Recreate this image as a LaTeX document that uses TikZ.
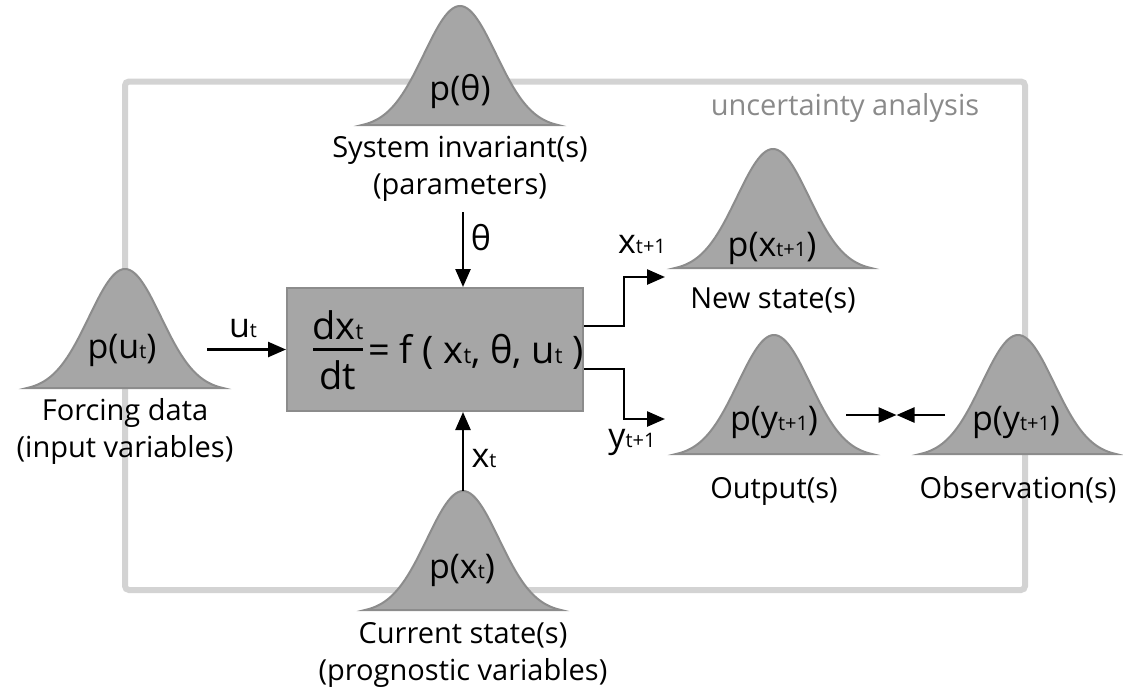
\documentclass[tikz,border=0pt]{standalone}
\usepackage{fontspec}
\setmainfont{Open Sans}
\usetikzlibrary{arrows.meta,calc}
\definecolor{bellfill}{HTML}{A6A6A6}
\definecolor{bellline}{HTML}{8C8C8C}
\definecolor{framegray}{HTML}{D3D3D3}
\definecolor{labgray}{HTML}{8A8A8A}
\newcommand\sbs[1]{{\fontsize{20}{20}\selectfont #1}}
\newcommand\sbe[1]{{\fontsize{22}{22}\selectfont #1}}
\newcommand\thet{θ}
\newcommand\bellat[3]{%
  \begin{scope}[shift={(#2,#3)}]
    \draw[bellstyle] plot[domain=-98:98,samples=81,smooth] (\x,{-122*exp(-(\x)^2/2592)}) -- cycle;
    \coordinate (#1) at (0,-122);
  \end{scope}}
\begin{document}
\begin{tikzpicture}[x=1pt,y=-1pt,
  lab/.style={font=\fontsize{29}{34}\selectfont, anchor=base, inner sep=0pt},
  pl/.style={font=\fontsize{34}{36}\selectfont, anchor=base, inner sep=0pt},
  eq/.style={font=\fontsize{38}{40}\selectfont, anchor=base, inner sep=0pt},
  arr/.style={line width=2.5pt, -{Triangle[length=18pt,width=15pt]}},
  conn/.style={line width=2.5pt},
  bellstyle/.style={fill=bellfill, draw=bellline, line width=2pt},
  framestyle/.style={draw=framegray, line width=6pt, rounded corners=4pt}]
\useasboundingbox (0,0) rectangle (1123,691);
% frame
\draw[framestyle] (125,81.5) rectangle (1025,590);
\node[lab, text=labgray] (ua) at (845,115) {uncertainty analysis};
% model box
\node[draw=bellline, fill=bellfill, line width=2pt, minimum width=296, minimum height=123, inner sep=0pt] (box) at (435,349.5) {};
\node[eq] (dx) at (338,339) {dx\sbe{t}};
\node[eq] (dt) at (338,389) {dt};
\draw[conn] ([xshift=-25]dx.base |- box.center) -- ([xshift=25]dx.base |- box.center);
\node[eq, anchor=base west] (rhs) at (368,363) {= f ( x\sbe{t}, \thet, u\sbe{t} )};
% bells
\bellat{pf}{125}{391}
\bellat{pth}{460}{128}
\bellat{pn}{773}{271}
\bellat{po}{774}{457}
\bellat{pob}{1018}{457}
\bellat{pc}{463}{613}
% bell texts
\node[pl] (tf) at (122,358) {p(u\sbs{t})};
\node[lab] (f1) at (125,420) {Forcing data};
\node[lab] (f2) at (125,457) {(input variables)};
\node[pl] (tth) at (460,100) {p(\thet)};
\node[lab] (s1) at (460,157) {System invariant(s)};
\node[lab] (s2) at (460,194) {(parameters)};
\node[pl] (tn) at (772,256) {p(x\sbs{t+1})};
\node[lab] (n1) at (773,308) {New state(s)};
\node[pl] (to) at (774,430) {p(y\sbs{t+1})};
\node[lab] (o1) at (774,498) {Output(s)};
\node[pl] (tob) at (1016,430) {p(y\sbs{t+1})};
\node[lab] (ob1) at (1018,498) {Observation(s)};
\node[pl] (tc) at (462,578) {p(x\sbs{t})};
\node[lab] (c1) at (463,643) {Current state(s)};
\node[lab] (c2) at (463,680) {(prognostic variables)};
% connectors
\coordinate (ths) at (463,212);
\draw[arr] (ths) -- (ths |- box.north);
\node[pl] (lth) at (481,250) {\thet};
\coordinate (us) at (207,349.5);
\draw[arr] (us) -- (us -| box.west);
\node[pl] (lu) at (243,337) {u\sbs{t}};
\draw[arr] (pc) -- (pc |- box.south);
\node[pl] (lx) at (484,467) {x\sbs{t}};
\coordinate (xn) at (665,277);
\draw[arr] ([yshift=23.5]box.east) -- ++(40,0) |- (xn);
\node[pl] (lxn) at (642,253) {x\sbs{t+1}};
\coordinate (yn) at (665,419);
\draw[arr] ([yshift=-19.5]box.east) -- ++(40,0) |- (yn);
\node[pl] (lyn) at (632,447) {y\sbs{t+1}};
\coordinate (a1) at (846,415);
\coordinate (a2) at (945,415);
\coordinate (am) at (896.5,415);
\draw[arr] (a1) -- (am);
\draw[arr] (a2) -- (am);
\end{tikzpicture}
\end{document}
